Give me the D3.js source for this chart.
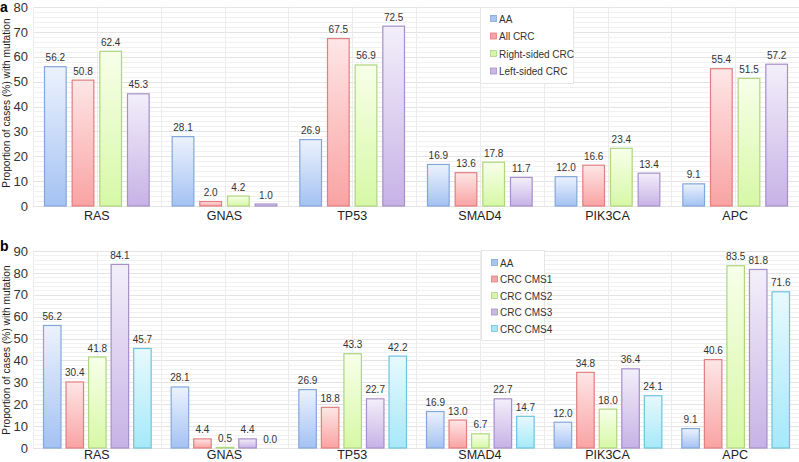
<!DOCTYPE html>
<html><head><meta charset="utf-8">
<script src="https://cdn.jsdelivr.net/npm/d3@7"></script>
<style>
html,body{margin:0;padding:0;background:#fff;}
svg{display:block;font-family:"Liberation Sans",Arial,Helvetica,sans-serif;}
</style></head>
<body>
<svg id="chart" width="799" height="462"></svg>
<script>
const genes = ["RAS","GNAS","TP53","SMAD4","PIK3CA","APC"];

const seriesA = ["AA","All CRC","Right-sided CRC","Left-sided CRC"];
const aaA     = [56.2, 28.1, 26.9, 16.9, 12.0, 9.1];
const allCRC  = [50.8, 2.0, 67.5, 13.6, 16.6, 55.4];
const rightCRC= [62.4, 4.2, 56.9, 17.8, 23.4, 51.5];
const leftCRC = [45.3, 1.0, 72.5, 11.7, 13.4, 57.2];
const ticksA  = [0,10,20,30,40,50,60,70,80];

const seriesB = ["AA","CRC CMS1","CRC CMS2","CRC CMS3","CRC CMS4"];
const aaB  = [56.2, 28.1, 26.9, 16.9, 12.0, 9.1];
const cms1 = [30.4, 4.4, 18.8, 13.0, 34.8, 40.6];
const cms2 = [41.8, 0.5, 43.3, 6.7, 18.0, 83.5];
const cms3 = [84.1, 4.4, 22.7, 22.7, 36.4, 81.8];
const cms4 = [45.7, 0.0, 42.2, 14.7, 24.1, 71.6];
const ticksB = [0,10,20,30,40,50,60,70,80,90];

const colorKeys = ["blue","red","green","purple","cyan"];
const pal = {
  blue:  {top:"#ecf2fd", bot:"#a4c2f3", stroke:"#84a7db", sw:"#a9c4ee"},
  red:   {top:"#fee6e6", bot:"#f9a3a3", stroke:"#e07f7f", sw:"#f3a5a5"},
  green: {top:"#f7ffe9", bot:"#d7f8a6", stroke:"#afd57f", sw:"#d8f3ae"},
  purple:{top:"#f3effa", bot:"#c7b2e6", stroke:"#a68fca", sw:"#c9b8e6"},
  cyan:  {top:"#e7f9fd", bot:"#a6e9f9", stroke:"#6fc3dc", sw:"#a9e6f5"}
};

const svg = d3.select("#chart");
const defs = svg.append("defs");
colorKeys.forEach(k=>{
  const g = defs.append("linearGradient").attr("id","g-"+k).attr("x1",0).attr("y1",0).attr("x2",0).attr("y2",1);
  g.append("stop").attr("offset","0%").attr("stop-color",pal[k].top);
  g.append("stop").attr("offset","100%").attr("stop-color",pal[k].bot);
});

function panel(cfg){
  const {letter, series, data, ticks, ymax, yTop, yBot, innerPad, legend, labelY, titleY, letterY} = cfg;
  const left = 33, right = 799;
  const x0 = d3.scaleBand().domain(genes).range([left,right]).paddingInner(0).paddingOuter(0);
  const x1 = d3.scaleBand().domain(series).range([innerPad[0], x0.bandwidth()-innerPad[1]]).paddingInner(0.18).paddingOuter(0);
  const y = d3.scaleLinear().domain([0,ymax]).range([yBot,yTop]);
  const g = svg.append("g");

  // minor gridlines
  const minor = d3.range(0, ymax+0.01, 2);
  g.append("g").selectAll("line").data(minor).join("line")
    .attr("x1",left).attr("x2",right).attr("y1",d=>Math.round(y(d))+0.5).attr("y2",d=>Math.round(y(d))+0.5)
    .attr("stroke","#f1f1f1").attr("stroke-width",1);
  // major gridlines
  g.append("g").selectAll("line").data(ticks).join("line")
    .attr("x1",left).attr("x2",right).attr("y1",d=>Math.round(y(d))+0.5).attr("y2",d=>Math.round(y(d))+0.5)
    .attr("stroke","#e4e4e4").attr("stroke-width",1);
  // vertical gridlines at half categories
  const vx = [];
  genes.forEach(gn=>{ vx.push(x0(gn)); vx.push(x0(gn)+x0.bandwidth()/2); });
  g.append("g").selectAll("line").data(vx).join("line")
    .attr("x1",d=>Math.round(d)+0.5).attr("x2",d=>Math.round(d)+0.5).attr("y1",yTop).attr("y2",yBot)
    .attr("stroke","#ececec").attr("stroke-width",1);

  // y axis
  const yAxis = d3.axisLeft(y).tickValues(ticks).tickSize(0).tickPadding(5).tickFormat(d3.format("d"));
  const ya = g.append("g").attr("transform",`translate(${left},0)`).call(yAxis);
  ya.select(".domain").remove();
  ya.selectAll("text").attr("font-size",13).attr("fill","#333").attr("font-family","Liberation Sans, Arial, sans-serif");

  // x axis
  const xAxis = d3.axisBottom(x0).tickSize(0).tickPadding(0);
  const xa = g.append("g").attr("transform",`translate(0,${labelY})`).call(xAxis);
  xa.select(".domain").remove();
  xa.selectAll("text").attr("font-size",12.5).attr("fill","#222").attr("dy","0.35em").attr("font-family","Liberation Sans, Arial, sans-serif");

  // bars
  const grp = g.append("g").selectAll("g").data(genes).join("g")
    .attr("transform",d=>`translate(${x0(d)},0)`);
  grp.selectAll("rect").data((gn,i)=>series.map((s,j)=>({s, j, v:data[j][i]}))).join("rect")
    .attr("x",d=>x1(d.s)+0.5).attr("width",x1.bandwidth()-1)
    .attr("y",d=>y(d.v)+0.5).attr("height",d=>Math.max(0,yBot-y(d.v)-0.5))
    .attr("fill",d=>`url(#g-${colorKeys[d.j]})`)
    .attr("stroke",d=>pal[colorKeys[d.j]].stroke).attr("stroke-width",1.2)
    .attr("visibility",d=>d.v>0?"visible":"hidden");
  grp.selectAll("text").data((gn,i)=>series.map((s,j)=>({s, j, v:data[j][i]}))).join("text")
    .attr("x",d=>x1(d.s)+x1.bandwidth()/2).attr("y",d=>y(d.v)-5)
    .attr("text-anchor","middle").attr("font-size",10).attr("fill","#333")
    .text(d=>d3.format(".1f")(d.v));

  // y title
  svg.append("text").attr("transform",`translate(9.5,${titleY}) rotate(-90)`)
    .attr("text-anchor","middle").attr("font-size",10.2).attr("fill","#222")
    .text("Proportion of cases (%) with mutation");
  // panel letter
  svg.append("text").attr("x",0).attr("y",letterY).attr("font-size",14).attr("font-weight","bold").attr("fill","#000").text(letter);

  // legend
  const lg = svg.append("g");
  lg.append("rect").attr("x",legend.x+0.5).attr("y",legend.y+0.5).attr("width",legend.w).attr("height",legend.h)
    .attr("fill","#fff").attr("stroke","#e6e6e6");
  series.forEach((s,j)=>{
    const cy = legend.y + legend.first + j*legend.step;
    lg.append("rect").attr("x",legend.x+10.5).attr("y",cy-3.5).attr("width",6).attr("height",6)
      .attr("fill",pal[colorKeys[j]].sw).attr("stroke",pal[colorKeys[j]].stroke).attr("stroke-width",0.8);
    lg.append("text").attr("x",legend.x+19).attr("y",cy).attr("dy","0.35em").attr("font-size",10).attr("fill","#333").text(s);
  });
}

panel({letter:"a", series:seriesA, data:[aaA,allCRC,rightCRC,leftCRC], ticks:ticksA, ymax:80,
  yTop:7, yBot:206, innerPad:[11,11], labelY:216, titleY:103, letterY:12,
  legend:{x:480, y:7, w:93, h:76, first:12, step:17.5}});
panel({letter:"b", series:seriesB, data:[aaB,cms1,cms2,cms3,cms4], ticks:ticksB, ymax:90,
  yTop:251, yBot:448, innerPad:[10,9], labelY:455, titleY:350, letterY:251,
  legend:{x:481, y:250, w:63, h:90, first:13, step:16.5}});
</script>
</body></html>
